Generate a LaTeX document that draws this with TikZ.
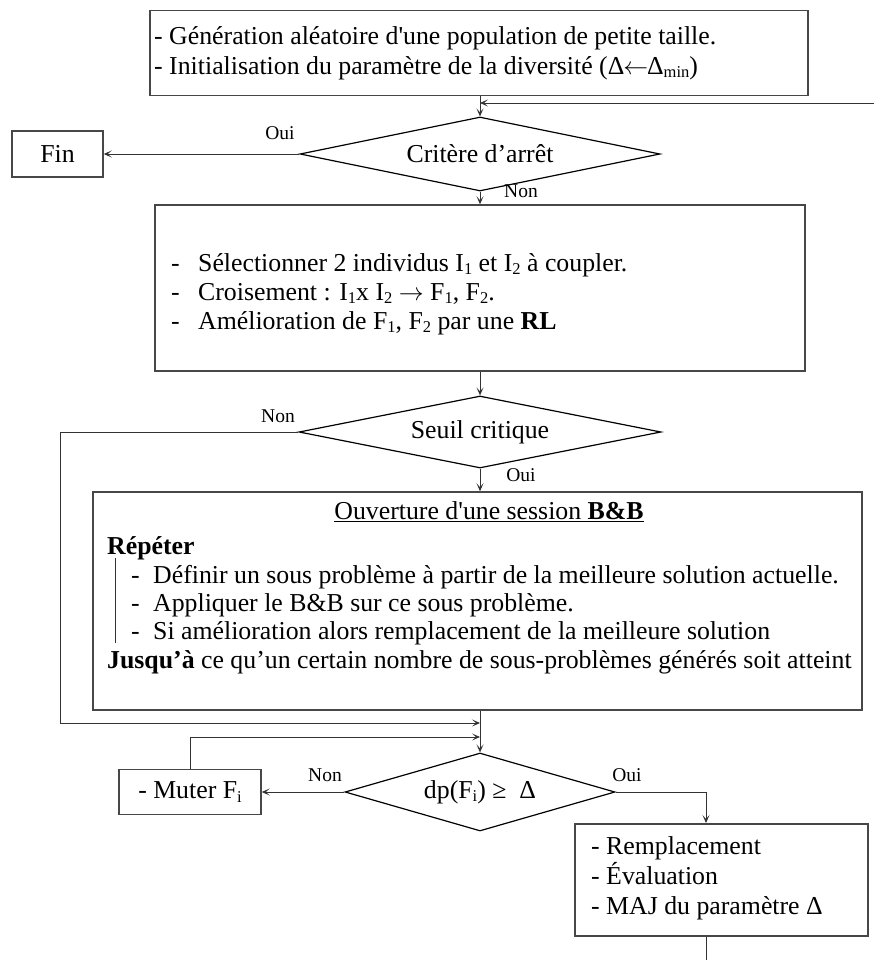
\documentclass[tikz,border=0pt]{standalone}
\usepackage{fontspec}
\setmainfont{Liberation Serif}
\usetikzlibrary{shapes.geometric,arrows.meta,calc}
% dash followed by a tab-like indent
\newcommand\dashitem[2]{\makebox[#1pt][l]{-}#2}
% small lowered index
\newcommand\lowidx[1]{\raisebox{-0.14em}{\fontsize{16.5}{16.5}\selectfont #1}}
\begin{document}
\begin{tikzpicture}[x=1pt,y=-1pt,
  box/.style={draw=black!72, line width=1.5pt, inner sep=0pt,
    font=\fontsize{25.8}{30}\selectfont},
  decision/.style={diamond, draw=black, line width=1.2pt, inner sep=0pt,
    font=\fontsize{25.8}{30}\selectfont},
  txt/.style={inner sep=0pt, align=left, font=\fontsize{25.8}{30}\selectfont},
  lbl/.style={inner sep=0pt, font=\fontsize{19.5}{22}\selectfont},
  link/.style={draw=black!80, line width=0.9pt},
  flow/.style={link, -{Stealth[length=8pt,width=7pt,inset=4pt]}}]
\useasboundingbox (0,0) rectangle (874,960);

% initialisation
\node[box, minimum width=658, minimum height=85, anchor=north west] (init) at (149,10) {};
\node[txt, anchor=west] (inittxt) at (154,53)
  {- Génération aléatoire d\textquotesingle une population de petite taille.\\
   - Initialisation du paramètre de la diversité (Δ\kern-1pt$\leftarrow$\kern-1ptΔ\lowidx{min})};

% stopping test
\node[decision, aspect=4.865, minimum width=360, minimum height=74] (stop) at (480,154) {Critère d’arrêt};
\coordinate (loopin) at (874,103);
\draw[flow] (init.south -| stop.north) -- (stop.north);
\draw[flow] (loopin) -- (loopin -| stop.north);

\node[box, minimum width=91, minimum height=46] (fin) at (57.5,154) {Fin};
\draw[flow] (stop.west) -- (fin.east);
\node[lbl] (oui1) at (280,133) {Oui};

% crossover and local search
\node[box, minimum width=650, minimum height=166] (rl) at (480,288) {};
\draw[flow] (stop.south) -- (rl.north);
\node[lbl] (non1) at (521,191) {Non};
\node[txt, anchor=west, font=\fontsize{25.8}{29}\selectfont] (rltxt) at (171,294)
  {\dashitem{27}{Sélectionner 2 individus I\lowidx{1} et I\lowidx{2} à coupler.}\\
   \dashitem{27}{Croisement : I\lowidx{1}x I\lowidx{2} $\rightarrow$ F\lowidx{1}, F\lowidx{2}.}\\
   \dashitem{27}{Amélioration de F\lowidx{1}, F\lowidx{2} par une \textbf{RL}}};

% critical threshold
\node[decision, aspect=5.03, minimum width=362, minimum height=72] (seuil) at (480,432) {Seuil critique};
\draw[flow] (rl.south) -- (seuil.north);
\node[lbl] (non2) at (278,416) {Non};
\node[lbl] (oui2) at (521,475) {Oui};

% branch and bound session
\node[box, minimum width=769, minimum height=218] (bb) at (477.5,601) {};
\draw[flow] (seuil.south) -- (seuil.south |- bb.north);
\node[txt] (bbtitle) at (489,512) {\underline{Ouverture d\textquotesingle une session \textbf{B\&B}}};
\node[txt, anchor=west] (repeter) at (107,548) {\textbf{Répéter}};
\node[txt, anchor=west, font=\fontsize{25.8}{28}\selectfont] (bbitems) at (131,605)
  {\dashitem{22}{Définir un sous problème à partir de la meilleure solution actuelle.}\\
   \dashitem{22}{Appliquer le B\&B sur ce sous problème.}\\
   \dashitem{22}{Si amélioration alors remplacement de la meilleure solution}};
\node[txt, anchor=west] (jusqua) at (107,662)
  {\textbf{Jusqu’à} ce qu’un certain nombre de sous-problèmes générés soit atteint};
\draw[link] (115,558) -- (115,643);

% diversity test
\node[decision, aspect=3.46, minimum width=270, minimum height=78] (dp) at (480,792) {dp(F\lowidx{i}) ≥~~Δ};
\draw[flow] (bb.south -| dp.north) -- (dp.north);
\coordinate (jA) at (480,723);
\draw[flow] (seuil.west) -- ++(-238,0) |- (jA);

\node[box, minimum width=142, minimum height=45] (muter) at (190,792) {- Muter F\lowidx{i}};
\draw[flow] (dp.west) -- (muter.east);
\coordinate (jB) at (480,737);
\draw[flow] (muter.north) |- (jB);
\node[lbl] (non3) at (325,775) {Non};
\node[lbl] (oui3) at (627,775) {Oui};

% replacement and update
\node[box, minimum width=293, minimum height=112, anchor=north west] (maj) at (574,823) {};
\node[txt, anchor=west] (majtxt) at (591,878)
  {- Remplacement\\- Évaluation\\- MAJ du paramètre Δ};
\coordinate (majin) at ($(maj.north west)+(132,0)$);
\draw[flow] (dp.east) -| (majin);
\coordinate (exit) at (706,960);
\draw[link] (maj.south -| majin) -- (exit);
\end{tikzpicture}
\end{document}
